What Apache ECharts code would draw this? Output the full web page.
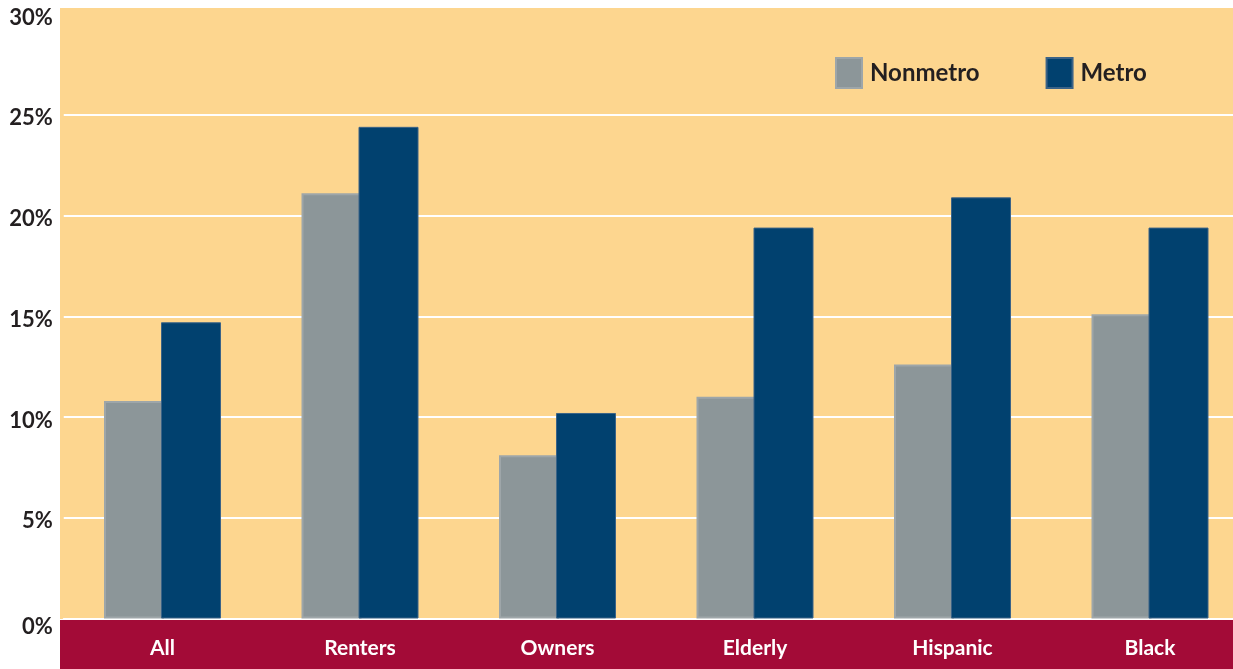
<!DOCTYPE html>
<html>
<head>
<meta charset="utf-8">
<title>Nonmetro vs Metro</title>
<script src="https://cdn.jsdelivr.net/npm/echarts@6/dist/echarts.min.js"></script>
<style>
  html, body { margin: 0; padding: 0; background: #ffffff; }
  #chart { width: 1233px; height: 669px; }
</style>
</head>
<body>
<div id="chart"></div>
<script>
// Share of households in each group (percent)
const categories = ['All', 'Renters', 'Owners', 'Elderly', 'Hispanic', 'Black'];
const nonmetro = [10.8, 21.1, 8.1, 11.0, 12.6, 15.1];
const metro = [14.7, 24.4, 10.2, 19.4, 20.9, 19.4];
const seriesNames = ['Nonmetro', 'Metro'];

const FONT = 'Lato, "Open Sans", sans-serif';
const TEXT = '#231f20';

const chart = echarts.init(document.getElementById('chart'), null, { renderer: 'canvas' });

chart.setOption({
  animation: false,
  backgroundColor: '#ffffff',
  textStyle: { fontFamily: FONT },
  graphic: [
    { type: 'rect', z: -10, shape: { x: 60, y: 8, width: 1173, height: 611 },
      style: { fill: '#fdd68f' } },
    { type: 'rect', z: -10, shape: { x: 60, y: 620, width: 1173, height: 49 },
      style: { fill: '#a30b37' } }
  ],
  legend: {
    data: seriesNames,
    left: 835,
    top: 57,
    padding: 0,
    icon: 'rect',
    itemWidth: 26,
    itemHeight: 30,
    itemGap: 66,
    textStyle: { color: TEXT, fontSize: 24, fontWeight: 'bold', fontFamily: FONT, padding: [0, 0, 0, 3] }
  },
  // the last category band runs past the right edge of the canvas
  grid: {
    left: 63.75, width: 1185, top: 14, bottom: 50.5,
    containLabel: false, outerBoundsMode: 'none'
  },
  xAxis: {
    type: 'category',
    data: categories,
    axisLine: { show: true, lineStyle: { color: '#ffffff', width: 2 } },
    axisTick: { show: false },
    axisLabel: { color: '#ffffff', fontSize: 21, fontWeight: 'bold', fontFamily: FONT, margin: 19 }
  },
  yAxis: {
    type: 'value',
    min: 0,
    max: 30,
    interval: 5,
    axisLine: { show: false },
    axisTick: { show: false },
    splitLine: { show: true, showMaxLine: false, lineStyle: { color: '#ffffff', width: 2 } },
    axisLabel: {
      color: TEXT,
      fontSize: 22,
      fontWeight: 'bold',
      fontFamily: FONT,
      margin: 11,
      padding: [7, 0, 0, 0],
      formatter: v => (v === 0 ? '{z|' + v + '%}' : v + '%'),
      rich: { z: { color: TEXT, fontSize: 22, fontWeight: 'bold', fontFamily: FONT, padding: [10, 0, 0, 0] } }
    }
  },
  series: [
    {
      name: seriesNames[0],
      type: 'bar',
      data: nonmetro,
      barWidth: 60,
      barGap: '-5%',
      itemStyle: { color: '#8c9699', borderColor: '#9ea6a9', borderWidth: 2 }
    },
    {
      name: seriesNames[1],
      type: 'bar',
      data: metro,
      barWidth: 60,
      itemStyle: { color: '#01416f', borderColor: '#3b6387', borderWidth: 1 }
    }
  ]
});
</script>
</body>
</html>
